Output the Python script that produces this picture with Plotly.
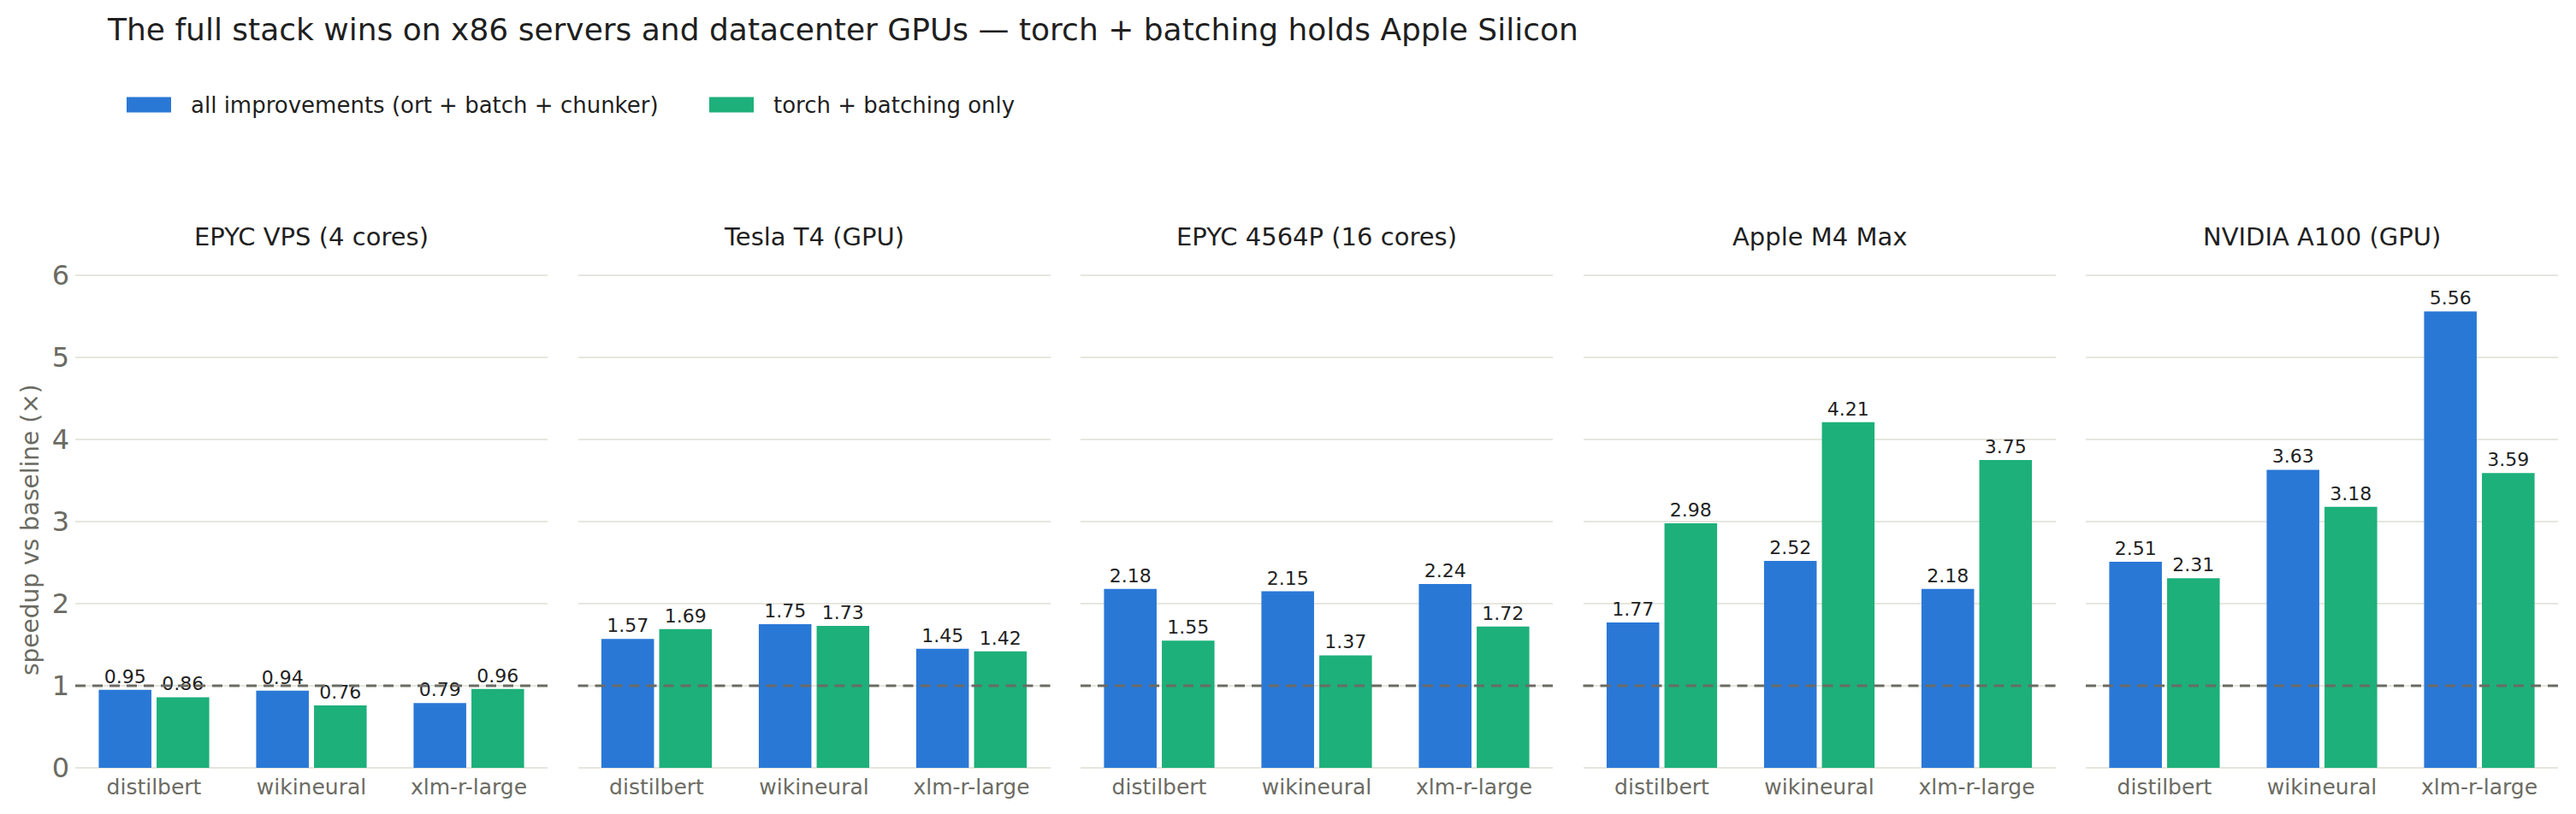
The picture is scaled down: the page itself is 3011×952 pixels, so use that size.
import plotly.graph_objects as go
from plotly.subplots import make_subplots

# ---- data ----
machines = ["EPYC VPS (4 cores)", "Tesla T4 (GPU)", "EPYC 4564P (16 cores)",
            "Apple M4 Max", "NVIDIA A100 (GPU)"]
models = ["distilbert", "wikineural", "xlm-r-large"]
series_names = ["all improvements (ort + batch + chunker)", "torch + batching only"]
all_improvements = [
    [0.95, 0.94, 0.79],
    [1.57, 1.75, 1.45],
    [2.18, 2.15, 2.24],
    [1.77, 2.52, 2.18],
    [2.51, 3.63, 5.56],
]
torch_batching = [
    [0.86, 0.76, 0.96],
    [1.69, 1.73, 1.42],
    [1.55, 1.37, 1.72],
    [2.98, 4.21, 3.75],
    [2.31, 3.18, 3.59],
]
y_ticks = [0, 1, 2, 3, 4, 5, 6]
baseline = 1.0
title_text = ("The full stack wins on x86 servers and datacenter GPUs \u2014 "
              "torch + batching holds Apple Silicon")
y_title = "speedup vs baseline (\u00d7)"

# ---- style ----
FONT = "DejaVu Sans"
BLUE = "#2a78d6"
GREEN = "#1db07a"
GRID = "#e6e6de"
TICK = "#6b6b63"
DARK = "#1f1f1f"
W, H = 3011, 952
ML, MR, MT, MB = 88, 21, 296, 54
PW, PH = W - ML - MR, H - MT - MB

fig = make_subplots(rows=1, cols=5, shared_yaxes=True,
                    horizontal_spacing=35.5 / PW,
                    subplot_titles=machines)

colors = [BLUE, GREEN]
for i, m in enumerate(machines):
    for s, (vals, name) in enumerate(zip([all_improvements, torch_batching], series_names)):
        fig.add_trace(go.Bar(
            x=models, y=vals[i], name=name, marker_color=colors[s],
            marker_line_width=0,
            text=[f"{v:.2f}" for v in vals[i]], textposition="outside",
            textfont=dict(family=FONT, size=22, color=DARK),
            cliponaxis=False, showlegend=False, legendgroup=name,
        ), row=1, col=i + 1)
    fig.add_shape(type="line", xref=f"x{'' if i == 0 else i + 1} domain",
                  yref=f"y{'' if i == 0 else i + 1}",
                  x0=0, x1=1, y0=baseline, y1=baseline,
                  line=dict(color=TICK, width=3, dash="12px,8px"), layer="above")

for a in fig.layout.annotations:
    a.font = dict(family=FONT, size=29, color=DARK)

fig.update_xaxes(showgrid=False, showline=False, ticks="", ticklabelstandoff=5,
                 tickfont=dict(family=FONT, size=25, color=TICK))
fig.update_yaxes(range=[0, 6.27], tickvals=y_ticks, showgrid=True,
                 gridcolor=GRID, gridwidth=2, zeroline=True,
                 zerolinecolor=GRID, zerolinewidth=2, showline=False,
                 ticks="", ticklabelstandoff=6,
                 tickfont=dict(family=FONT, size=32, color=TICK))

# manual legend (wide swatches) and y-axis title
def px_x(px):
    return (px - ML) / PW

def px_y(py):
    return (H - MB - py) / PH

fig.add_annotation(xref="paper", yref="paper", x=px_x(35), y=px_y(620),
                   xanchor="center", yanchor="middle", showarrow=False,
                   textangle=-90, text=y_title,
                   font=dict(family=FONT, size=28, color=TICK))

legend_items = [(148, 200, 221, BLUE, series_names[0]),
                (829, 881, 902, GREEN, series_names[1])]
for x0, x1, xt, c, label in legend_items:
    fig.add_shape(type="rect", xref="paper", yref="paper",
                  x0=px_x(x0), x1=px_x(x1), y0=px_y(131.5), y1=px_y(113.5),
                  fillcolor=c, line_width=0)
    fig.add_annotation(xref="paper", yref="paper", x=px_x(xt), y=px_y(123),
                       xanchor="left", yanchor="middle", showarrow=False,
                       text=label, font=dict(family=FONT, size=26, color=DARK))

fig.update_layout(
    width=W, height=H,
    margin=dict(l=ML, r=MR, t=MT, b=MB),
    paper_bgcolor="white", plot_bgcolor="white",
    barmode="group", bargap=0.265, bargroupgap=0.09,
    showlegend=False,
    title=dict(text=title_text, x=126 / W, xanchor="left", xref="container",
               y=1 - 34 / H, yanchor="middle", yref="container",
               font=dict(family=FONT, size=36, color=DARK)),
    font=dict(family=FONT),
)

fig.write_html("out.html")
